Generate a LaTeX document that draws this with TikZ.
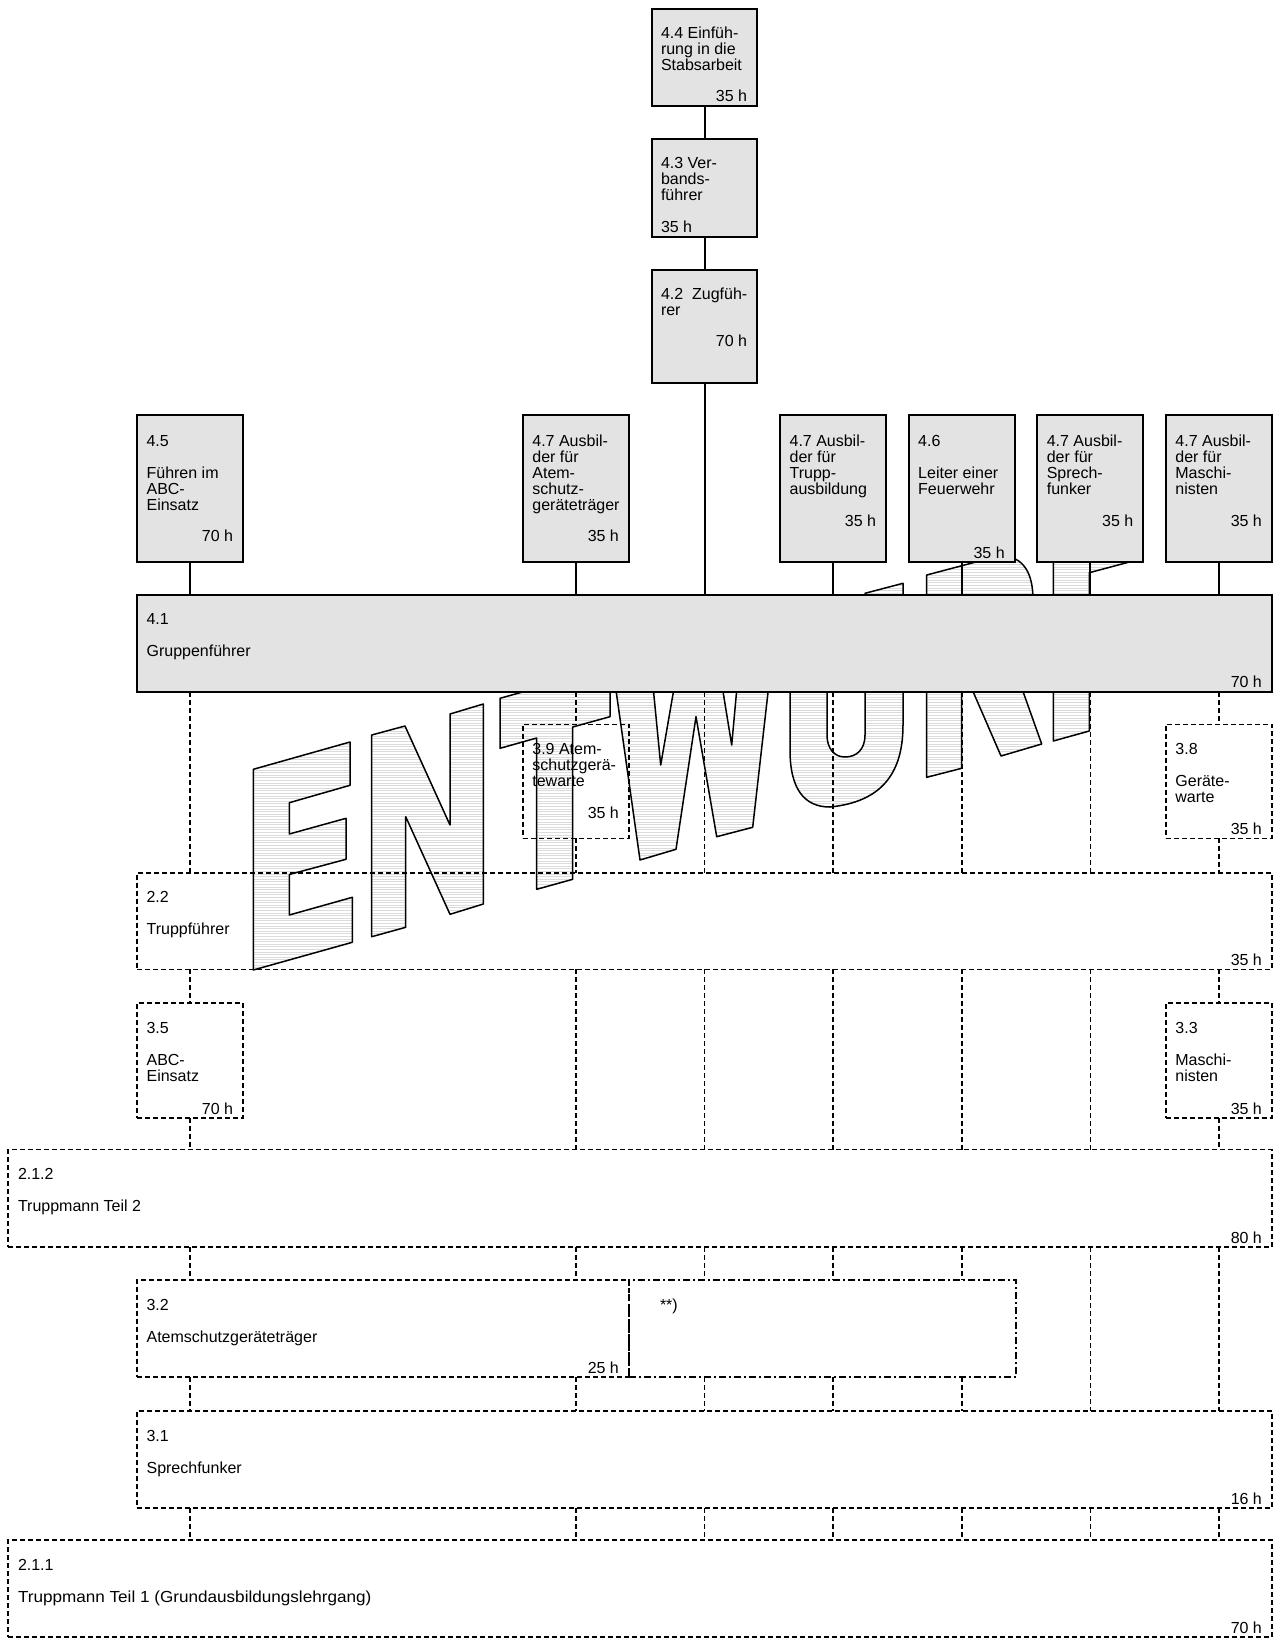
\documentclass[tikz,border=0pt]{standalone}
\usepackage{fontspec}
\usepackage{graphicx}
\setmainfont{Liberation Sans}
\usetikzlibrary{fit}
\pgfdeclarelayer{bg}
\pgfdeclarelayer{wm}
\pgfdeclarelayer{fg}
\pgfsetlayers{bg,main,wm,fg}
\newcommand\mlx[1]{\vtop{\baselineskip=16pt\lineskiplimit=-20pt\lineskip=0pt\halign{##\hfil\cr#1\crcr}}}
\tikzset{
 sline/.style={line width=2pt},
 dline/.style={line width=1.6pt, dash pattern=on 5pt off 3pt},
 sbox/.style={draw, line width=2pt, fill=black!11, rectangle, inner sep=0pt, outer sep=0pt},
 dbox/.style={draw, line width=1.6pt, dash pattern=on 5pt off 3pt, rectangle, inner sep=0pt, outer sep=0pt},
 ddbox/.style={draw, line width=2pt, dash pattern=on 7pt off 3pt on 2pt off 3pt, rectangle, inner sep=0pt, outer sep=0pt},
 txt/.style={inner sep=0pt, outer sep=0pt, anchor=base west, font=\fontsize{16pt}{16pt}\selectfont},
 hrs/.style={txt, anchor=base east},
 hatch/.style={draw=black!14, line width=0.7pt},
 wmline/.style={draw=black, line width=1.5pt, line join=round},
}
\begin{document}
\begin{tikzpicture}[x=1pt,y=-1pt]
\useasboundingbox (0,0) rectangle (1278,1639);
\begin{pgfonlayer}{bg}
\fill[white] (0,0) rectangle (1278,1639);
\end{pgfonlayer}

% columns
\coordinate (k0) at (190.1,0);
\coordinate (k3) at (575.9,0);
\coordinate (k4) at (704.5,0);
\coordinate (k5) at (833.1,0);
\coordinate (k6) at (961.7,0);
\coordinate (k7) at (1090.3,0);
\coordinate (k8) at (1218.9,0);

% watermark ENTWURF
\def\wmall{
 (253.3,970) -- (253.3,769.3) -- (350,742) -- (350,785.3) -- (289.3,802.7) -- (289.3,834) -- (346,818.3) -- (346,859.3) -- (289.3,874.5) -- (289.3,915) -- (352.3,897.3) -- (352.3,942.3) -- cycle
 (371.7,936.7) -- (371.7,735) -- (405,726) -- (450,825) -- (450,714) -- (483.3,704) -- (483.3,904) -- (450,914.3) -- (405.7,816.7) -- (405.7,927.3) -- cycle
 (500,748.3) -- (500,698.3) -- (610,667.5) -- (610,716.7) -- (572.7,727) -- (572.7,879.3) -- (536.7,889.3) -- (536.7,738) -- cycle
 (612,662) -- (640,860) -- (676,849.3) -- (696,716.7) -- (716.7,836.7) -- (752.7,827.3) -- (776,622) -- (742,632) -- (731.7,745) -- (714,636) -- (681,648) -- (660.7,765) -- (650,655) -- cycle
 (790,614) -- (790,750) .. controls (790,790) and (805,807) .. (830,807) .. controls (880,802) and (903,775) .. (903,725) -- (903,583.3) -- (865,593.3) -- (865,735) .. controls (865,750) and (856,757) .. (845,757) .. controls (834,757) and (827,748) .. (827,735) -- (827,604) -- cycle
 (926.7,777.3) -- (926.7,575) -- (1000,555.6) .. controls (1025,556) and (1033,575) .. (1033,600) -- (1028,640) -- (1010,655) -- (1041.7,744) -- (1001,756) -- (968,680) -- (961.7,682) -- (961.7,768.3) -- cycle
 (1053.3,741) -- (1053.3,541) -- (1135,519) -- (1135,560.5) -- (1089.3,572.7) -- (1089.3,612) -- (1128,601) -- (1128,641) -- (1089.3,652) -- (1089.3,731) -- cycle
}
\begin{pgfonlayer}{bg}
\begin{scope}
\clip \wmall;
\foreach \y in {510,512.6,...,985}
  \draw[hatch] (240,\y) -- (1150,\y);
\end{scope}
\end{pgfonlayer}
\begin{pgfonlayer}{wm}
\draw[wmline] \wmall;
\end{pgfonlayer}

% solid boxes (front)
\begin{pgfonlayer}{fg}
\node[sbox, fit={(652,8.5) (757,106)}] (b44) {};
\node[sbox, fit={(652,138.5) (757,237)}] (b43) {};
\node[sbox, fit={(652,269.5) (757,383)}] (b42) {};
\node[sbox, fit={(137.1,415.3) (243.1,562)}] (b45) {};
\node[sbox, fit={(522.9,415.3) (628.9,562)}] (b47a) {};
\node[sbox, fit={(780.1,415.3) (886.1,562)}] (b47t) {};
\node[sbox, fit={(908.7,415.3) (1014.7,562)}] (b46) {};
\node[sbox, fit={(1037.3,415.3) (1143.3,562)}] (b47s) {};
\node[sbox, fit={(1165.9,415.3) (1271.9,562)}] (b47m) {};
\node[sbox, fit={(137.1,594.7) (1271.9,692)}] (g41) {};

\draw[sline] (b44.south) -- (b43.north);
\draw[sline] (b43.south) -- (b42.north);
\draw[sline] (b42.south) -- (b42.south |- g41.north);
\foreach \b in {b45,b47a,b47t,b46,b47s,b47m}
  \draw[sline] (\b.south) -- (\b.south |- g41.north);

\node[txt] (t44) at (661,38.2) {\mlx{4.4 Einfüh-\cr rung in die\cr Stabsarbeit}};
\node[hrs] (h44) at (747,101.7) {35 h};
\node[txt] (t43) at (661,168.2) {\mlx{4.3 Ver-\cr bands-\cr führer}};
\node[txt] (h43) at (661,232.3) {35 h};
\node[txt] (t42) at (661,299.2) {\mlx{4.2\ \ Zugfüh-\cr rer}};
\node[hrs] (h42) at (747,346.7) {70 h};

\node[txt] (t45) at (146.6,446.5) {\mlx{4.5\cr\cr Führen im\cr ABC-\cr Einsatz}};
\node[hrs] (h45) at (233.1,541.7) {70 h};
\node[txt] (t47a) at (532.4,446.5) {\mlx{4.7 Ausbil-\cr der für\cr Atem-\cr schutz-\cr geräteträger}};
\node[hrs] (h47a) at (618.9,541.7) {35 h};
\node[txt] (t47t) at (789.6,446.5) {\mlx{4.7 Ausbil-\cr der für\cr Trupp-\cr ausbildung}};
\node[hrs] (h47t) at (876.1,526) {35 h};
\node[txt] (t46) at (918.2,446.5) {\mlx{4.6\cr\cr Leiter einer\cr Feuerwehr}};
\node[hrs] (h46) at (1004.7,558.3) {35 h};
\node[txt] (t47s) at (1046.8,446.5) {\mlx{4.7 Ausbil-\cr der für\cr Sprech-\cr funker}};
\node[hrs] (h47s) at (1133.3,526) {35 h};
\node[txt] (t47m) at (1175.4,446.5) {\mlx{4.7 Ausbil-\cr der für\cr Maschi-\cr nisten}};
\node[hrs] (h47m) at (1261.9,526) {35 h};
\node[txt] (t41) at (146.6,624.5) {\mlx{4.1\cr\cr Gruppenführer}};
\node[hrs] (h41) at (1261.9,687.5) {70 h};
\end{pgfonlayer}

% dashed boxes
\node[dbox, fit={(522.9,724.3) (628.9,838.3)}] (b39) {};
\node[dbox, fit={(1165.9,724.3) (1271.9,838.3)}] (b38) {};
\node[dbox, fit={(137.1,872.7) (1271.9,969.3)}] (b22) {};
\node[dbox, fit={(137.1,1003) (243.1,1118)}] (b35) {};
\node[dbox, fit={(1165.9,1003) (1271.9,1118)}] (b33) {};
\node[dbox, fit={(8,1149.5) (1271.9,1246.7)}] (b212) {};
\node[dbox, fit={(137.1,1280) (628.9,1377)}] (b32) {};
\node[ddbox, fit={(628.9,1280) (1016,1377)}] (bss) {};
\node[dbox, fit={(137.1,1411) (1271.9,1508)}] (b31) {};
\node[dbox, fit={(8,1540) (1271.9,1637)}] (b211) {};

% dashed connectors
\draw[dline] (k0 |- g41.south) -- (k0 |- b22.north);
\draw[dline] (k3 |- g41.south) -- (k3 |- b39.north);
\draw[dline] (k3 |- b39.south) -- (k3 |- b22.north);
\foreach \k in {k4,k5,k6,k7}
  \draw[dline] (\k |- g41.south) -- (\k |- b22.north);
\draw[dline] (k8 |- g41.south) -- (k8 |- b38.north);
\draw[dline] (k8 |- b38.south) -- (k8 |- b22.north);

\draw[dline] (k0 |- b22.south) -- (k0 |- b35.north);
\draw[dline] (k0 |- b35.south) -- (k0 |- b212.north);
\foreach \k in {k3,k4,k5,k6,k7}
  \draw[dline] (\k |- b22.south) -- (\k |- b212.north);
\draw[dline] (k8 |- b22.south) -- (k8 |- b33.north);
\draw[dline] (k8 |- b33.south) -- (k8 |- b212.north);

\foreach \k in {k0,k3}
  \draw[dline] (\k |- b212.south) -- (\k |- b32.north);
\foreach \k in {k4,k5,k6}
  \draw[dline] (\k |- b212.south) -- (\k |- bss.north);
\foreach \k in {k7,k8}
  \draw[dline] (\k |- b212.south) -- (\k |- b31.north);

\foreach \k in {k0,k3}
  \draw[dline] (\k |- b32.south) -- (\k |- b31.north);
\foreach \k in {k4,k5,k6}
  \draw[dline] (\k |- bss.south) -- (\k |- b31.north);

\foreach \k in {k0,k3,k4,k5,k6,k7,k8}
  \draw[dline] (\k |- b31.south) -- (\k |- b211.north);

% dashed box texts
\node[txt] (t39) at (532.4,754) {\mlx{3.9 Atem-\cr schutzgerä-\cr tewarte}};
\node[hrs] (h39) at (618.9,818.3) {35 h};
\node[txt] (t38) at (1175.4,754.5) {\mlx{3.8\cr\cr Geräte-\cr warte}};
\node[hrs] (h38) at (1261.9,834.5) {35 h};
\node[txt] (t22) at (146.6,902.5) {\mlx{2.2\cr\cr Truppführer}};
\node[hrs] (h22) at (1261.9,965.5) {35 h};
\node[txt] (t35) at (146.6,1033) {\mlx{3.5\cr\cr ABC-\cr Einsatz}};
\node[hrs] (h35) at (233.1,1114) {70 h};
\node[txt] (t33) at (1175.4,1033) {\mlx{3.3\cr\cr Maschi-\cr nisten}};
\node[hrs] (h33) at (1261.9,1114) {35 h};
\node[txt] (t212) at (18,1179.5) {\mlx{2.1.2\cr\cr Truppmann Teil 2}};
\node[hrs] (h212) at (1261.9,1243) {80 h};
\node[txt] (t32) at (146.6,1310) {\mlx{3.2\cr\cr Atemschutzgeräteträger}};
\node[hrs] (h32) at (618.9,1373.5) {25 h};
\node[txt] (tss) at (660,1310) {**)};
\node[txt] (t31) at (146.6,1441) {\mlx{3.1\cr\cr Sprechfunker}};
\node[hrs] (h31) at (1261.9,1504.5) {16 h};
\node[txt] (t211) at (18,1570) {\mlx{2.1.1\cr\cr \scalebox{1.07}[1]{Truppmann Teil 1 (Grundausbildungslehrgang)}}};
\node[hrs] (h211) at (1261.9,1633.5) {70 h};
\end{tikzpicture}
\end{document}
